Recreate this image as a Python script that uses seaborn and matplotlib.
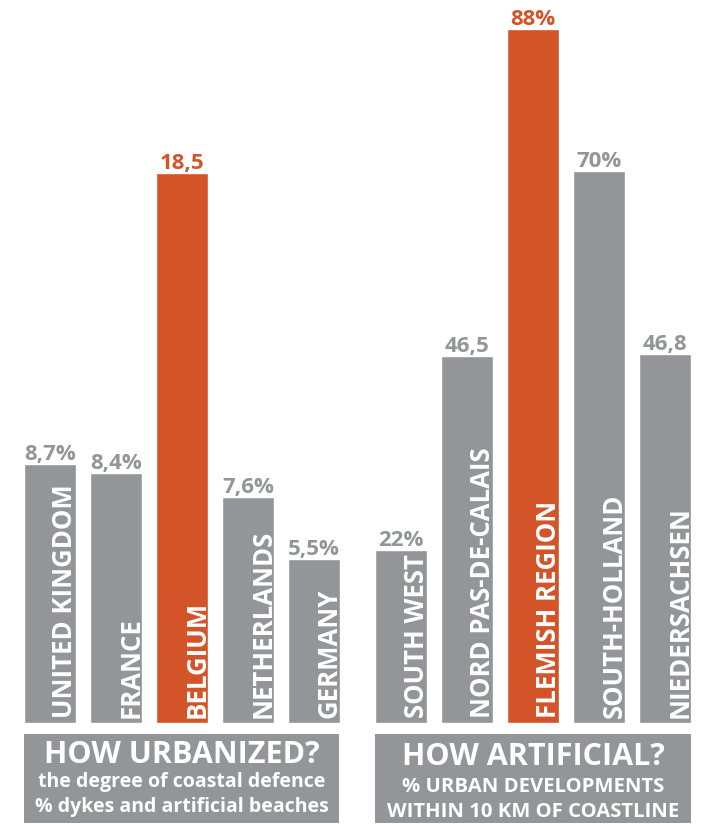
import matplotlib
matplotlib.use("Agg")
import matplotlib.pyplot as plt
import seaborn as sns
import pandas as pd

# ---- data -------------------------------------------------------------
urban_countries = ["UNITED KINGDOM", "FRANCE", "BELGIUM", "NETHERLANDS", "GERMANY"]
urban_values = [8.7, 8.4, 18.5, 7.6, 5.5]
urban_suffix = ["%", "%", "", "%", "%"]
urban_highlight = "BELGIUM"

artificial_regions = ["SOUTH WEST", "NORD PAS-DE-CALAIS", "FLEMISH REGION",
                      "SOUTH-HOLLAND", "NIEDERSACHSEN"]
artificial_values = [22, 46.5, 88, 70, 46.8]
artificial_suffix = ["%", "", "%", "%", ""]
artificial_highlight = "FLEMISH REGION"

urban_title = "HOW URBANIZED?"
urban_sub = ["the degree of coastal defence", "% dykes and artificial beaches"]
artificial_title = "HOW ARTIFICIAL?"
artificial_sub = ["% URBAN DEVELOPMENTS", "WITHIN 10 KM OF COASTLINE"]

# ---- style ------------------------------------------------------------
GREY = "#939598"
ORANGE = "#D35428"
sns.set_style("white")
plt.rcParams["font.family"] = ["Open Sans", "DejaVu Sans"]

W, H = 702, 824
fig = plt.figure(figsize=(W / 100, H / 100), dpi=100)
fig.patch.set_facecolor("white")

BASE_PX = 723  # pixel row of the bar baseline


def fmt(v, suffix):
    return f"{v:g}".replace(".", ",") + suffix


def panel(left_px, cats, vals, suffix, highlight, px_per_unit):
    ax = fig.add_axes([left_px / W, (H - BASE_PX) / H, 330 / W, BASE_PX / H])
    df = pd.DataFrame({"cat": cats, "val": vals})
    pal = {c: (ORANGE if c == highlight else GREY) for c in cats}
    sns.barplot(data=df, x="cat", y="val", hue="cat", palette=pal,
                width=0.79, saturation=1, legend=False, ax=ax, order=cats)
    ax.set_xlim(-0.5, len(cats) - 0.5)
    ax.set_ylim(0, BASE_PX / px_per_unit)
    ax.set_axis_off()
    for i, (c, v, s) in enumerate(zip(cats, vals, suffix)):
        col = ORANGE if c == highlight else GREY
        # value above the bar
        ax.annotate(fmt(v, s), xy=(i, v), xytext=(0, 4),
                    textcoords="offset pixels", ha="center", va="baseline",
                    fontsize=16, fontweight="bold", color=col,
                    annotation_clip=False)
        # category name running up inside the bar
        ax.annotate(c, xy=(i, 0), xytext=(15, 5),
                    textcoords="offset pixels", ha="center", va="bottom",
                    rotation=90, fontsize=18.5, fontweight="bold",
                    color="white", annotation_clip=False)
    return ax


panel(17, urban_countries, urban_values, urban_suffix, urban_highlight, 550 / 18.5)
panel(368, artificial_regions, artificial_values, artificial_suffix,
      artificial_highlight, 694 / 88)


def caption_box(x0, x1, title, subs, title_base, sub_bases, sub_size):
    y0, y1 = 734, 823
    bx = fig.add_axes([x0 / W, (H - y1) / H, (x1 - x0) / W, (y1 - y0) / H])
    bx.set_facecolor(GREY)
    bx.set_xticks([])
    bx.set_yticks([])
    for sp in bx.spines.values():
        sp.set_visible(False)
    bx.set_xlim(0, x1 - x0)
    bx.set_ylim(y1, y0)
    cx = (x1 - x0) / 2
    bx.text(cx, title_base, title, ha="center", va="baseline", fontsize=22,
            fontweight="bold", color="white")
    for yy, s in zip(sub_bases, subs):
        bx.text(cx, yy, s, ha="center", va="baseline", fontsize=sub_size,
                fontweight="bold", color="white")
    return bx


caption_box(24, 339, urban_title, urban_sub, 763, [787, 812], 14)
caption_box(375, 691, artificial_title, artificial_sub, 765, [792, 817], 14.6)

fig.savefig("out.png", dpi=100, facecolor="white")
